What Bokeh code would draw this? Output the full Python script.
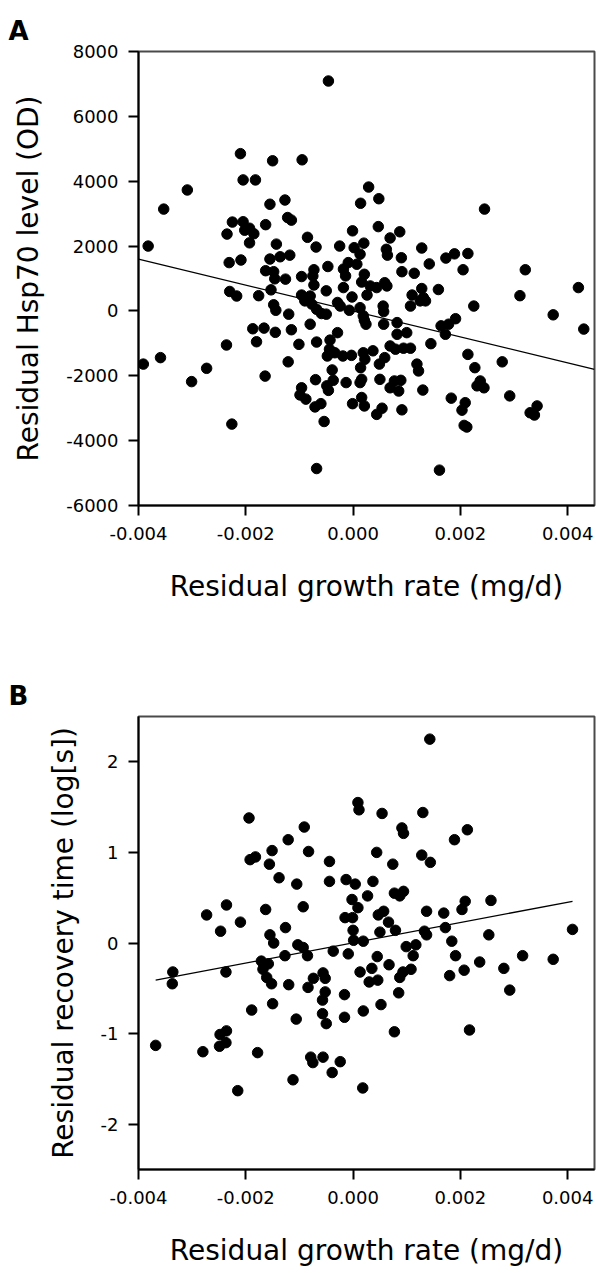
from bokeh.plotting import figure
from bokeh.layouts import column
from bokeh.models import FixedTicker, Title, Range1d
from bokeh.embed import file_html
from bokeh.resources import INLINE

# ---------------- Panel A data (growth rate in 1/1000 mg/d, Hsp70 in OD) ----------------
growth_a_milli = [
    -0.46, -2.10, -1.50, -0.95, -2.05, -1.82, -3.09, -3.53, -3.82, 0.29,
    0.48, 0.14, -1.55, -1.27, -1.22, -1.15, -2.25, -2.05, -1.63, -2.35,
    -2.02, -1.93, -1.85, -1.93, -1.43, -0.85, -0.69, -0.01, 0.47, 0.87,
    0.69, -0.25, 0.20, 0.02, 0.13, 0.62, 0.64, 0.90, 1.28, 1.42,
    -2.31, -2.09, -1.55, -1.36, -1.18, -1.63, -1.48, -1.46, -1.26, -0.96,
    -0.73, -0.75, -0.73, -0.47, -0.18, -0.09, 0.07, -0.14, -0.18, 0.21,
    0.16, 0.32, 0.44, 0.59, 0.63, 0.91, 1.14, 1.28, 1.59, -2.30,
    -2.17, -1.76, -1.53, -0.50, -0.96, -0.80, -0.02, 1.10, 1.31, -1.48,
    -1.44, -1.20, -0.90, -0.77, -0.68, -0.59, -0.50, -0.29, -0.24, -0.07,
    0.13, 0.19, 0.21, 0.24, 0.26, 0.56, 0.57, 0.57, 0.82, 0.82,
    1.00, 1.07, 1.25, 1.35, 1.64, -1.87, -1.66, -1.45, -1.15, -0.80,
    -1.80, -2.36, -1.01, -0.68, -0.29, -0.43, -0.44, -0.48, -0.34, -0.19,
    -0.03, 0.19, 0.37, 0.22, 0.14, -1.21, -2.73, -3.01, -1.64, -0.39,
    -0.70, -0.37, -0.49, -0.46, -0.13, 0.16, 0.13, 0.50, 0.49, 0.59,
    0.69, 0.79, 0.94, 1.07, 1.45, 1.19, 1.22, 1.30, 0.69, 0.77,
    0.89, 0.85, 0.91, 0.44, 0.54, 0.16, -0.01, 0.21, -0.96, -0.99,
    -0.88, -0.71, -0.60, -0.54, -2.26, -0.68, 1.61, -3.91, -3.59, 1.73,
    1.89, 2.14, 2.05, 3.21, 2.45, 3.11, 4.20, 2.25, 1.91, 1.78,
    1.72, 3.73, 4.30, 2.78, 2.14, 2.27, 2.37, 2.31, 2.44, 2.92,
    3.43, 3.30, 3.38, 1.83, 2.09, 2.03, 2.07, 2.12,
]
hsp70_a = [
    7090, 4850, 4630, 4660, 4040, 4040, 3730, 3140, 2000, 3820,
    3460, 3320, 3290, 3420, 2880, 2800, 2740, 2750, 2660, 2370,
    2490, 2550, 2380, 2100, 2060, 2270, 1970, 2470, 2600, 2440,
    2250, 2000, 2090, 1950, 1750, 1900, 1720, 1640, 1940, 1450,
    1490, 1570, 1600, 1670, 1720, 1240, 1210, 990, 980, 1060,
    1270, 1080, 800, 1370, 1290, 1490, 1440, 1080, 720, 1130,
    890, 770, 720, 870, 770, 1210, 1160, 690, 660, 600,
    460, 470, 650, 620, 490, 460, 430, 490, 410, 190,
    20, -100, 310, 210, 50, -80, -100, 260, 150, 20,
    100, -150, -290, -410, 490, 150, -20, -410, -360, -720,
    -670, 150, 310, 310, -460, -550, -530, -660, -580, -410,
    -950, -1050, -1030, -960, -670, -900, -1180, -1390, -1290, -1390,
    -1370, -1290, -1230, -1490, -1750, -1570, -1770, -2180, -2010, -1820,
    -2120, -2140, -2310, -2450, -2210, -2110, -2210, -2110, -1640, -1440,
    -1080, -1180, -1150, -1150, -1010, -1640, -1850, -2440, -2370, -2160,
    -2140, -2470, -3050, -3190, -3000, -2670, -2860, -2930, -2370, -2590,
    -2720, -2960, -2860, -3410, -3490, -4860, -4910, -1640, -1440, 1630,
    1760, 1770, 1270, 1270, 3140, 470, 720, 150, -240, -410,
    -720, -120, -560, -1570, -1340, -1750, -2160, -2310, -2370, -2620,
    -2930, -3140, -3210, -2690, -2830, -3060, -3530, -3580,
]
fit_a_x = [-0.0040, 0.0045]
fit_a_y = [1594, -1800]

# ---------------- Panel B data (growth rate in 1/1000 mg/d, recovery in log[s]) ----------------
growth_b_milli = [
    1.43, -1.94, -1.92, -1.82, -1.51, -1.56, -1.21, -1.38, -1.05, -2.36,
    -2.73, -2.10, -2.47, -1.63, -1.26, -1.55, -1.48, -1.03, -1.27, -1.71,
    -1.68, -2.37, -3.36, -3.37, -0.91, -0.83, -0.44, -0.44, -0.13, 0.04,
    0.37, 0.09, 0.11, 0.54, 1.30, 0.91, 0.94, 0.44, 0.74, 1.28,
    1.44, -0.02, 0.09, 0.27, 0.77, 0.87, 0.94, -0.93, -0.15, -0.01,
    0.47, 0.57, 0.66, 0.79, 0.00, 0.50, 0.01, 0.19, 1.37, 1.33,
    1.37, -0.93, -0.85, -0.37, -0.09, 0.45, 0.99, 1.17, 1.12, 2.13,
    1.89, 1.69, 2.09, 2.03, 2.57, 1.72, 4.09, 2.53, 1.84, 1.91,
    2.36, 2.07, 1.80, 2.81, 3.16, 3.73, 0.13, 0.35, 0.67, 0.93,
    1.08, -0.74, -0.56, -1.58, -1.61, -1.52, -1.20, -0.84, -0.52, -0.52,
    -0.57, -0.16, 0.30, 0.46, 0.87, 0.85, -1.89, -1.50, -1.06, -0.57,
    -0.50, -0.16, 0.19, 0.52, 0.77, -2.36, -2.48, -2.37, -2.49, -2.80,
    -1.78, -0.79, -0.75, -0.56, -0.24, -0.39, -1.12, -2.15, 0.18, -3.68,
    2.92, 2.17,
]
recovery_b = [
    2.25, 1.38, 0.92, 0.95, 1.02, 0.87, 1.14, 0.72, 0.65, 0.42,
    0.31, 0.23, 0.13, 0.37, 0.17, 0.09, 0.00, -0.02, -0.14, -0.20,
    -0.29, -0.32, -0.32, -0.45, 1.28, 1.01, 0.90, 0.68, 0.70, 0.65,
    0.68, 1.55, 1.47, 1.43, 1.44, 1.27, 1.21, 1.00, 0.87, 0.97,
    0.89, 0.48, 0.39, 0.52, 0.55, 0.52, 0.57, 0.40, 0.28, 0.28,
    0.31, 0.35, 0.23, 0.14, 0.14, 0.12, 0.03, 0.02, 0.35, 0.13,
    0.09, -0.05, -0.14, -0.09, -0.12, -0.15, -0.04, -0.02, -0.14, 1.25,
    1.14, 0.33, 0.46, 0.37, 0.47, 0.17, 0.15, 0.09, 0.02, -0.14,
    -0.21, -0.30, -0.36, -0.28, -0.14, -0.18, -0.32, -0.28, -0.24, -0.32,
    -0.29, -0.39, -0.33, -0.23, -0.38, -0.45, -0.46, -0.49, -0.39, -0.54,
    -0.63, -0.57, -0.43, -0.41, -0.38, -0.55, -0.74, -0.67, -0.84, -0.78,
    -0.89, -0.82, -0.75, -0.68, -0.98, -0.97, -1.01, -1.10, -1.14, -1.20,
    -1.21, -1.26, -1.32, -1.26, -1.31, -1.43, -1.51, -1.63, -1.60, -1.13,
    -0.52, -0.96,
]
fit_b_x = [-0.00368, 0.00409]
fit_b_y = [-0.41, 0.46]

# ---------------- Axis ticks and texts ----------------
x_ticks = [-0.004, -0.002, 0.0, 0.002, 0.004]
x_tick_labels = ["-0.004", "-0.002", "0.000", "0.002", "0.004"]
ya_ticks = [-6000, -4000, -2000, 0, 2000, 4000, 6000, 8000]
ya_tick_labels = ["-6000", "-4000", "-2000", "0", "2000", "4000", "6000", "8000"]
yb_ticks = [-2, -1, 0, 1, 2]
yb_tick_labels = ["-2", "-1", "0", "1", "2"]
x_title = "Residual growth rate (mg/d)"
ya_title = "Residual Hsp70 level (OD)"
yb_title = "Residual recovery time (log[s])"

FONT = "DejaVu Sans"


def make_panel(xs_milli, ys, fx, fy, yr, yt, ytl, ytitle, letter, height, btop, bbot):
    xs = [v / 1000.0 for v in xs_milli]
    p = figure(width=596, height=height, output_backend="svg", toolbar_location=None,
               x_range=Range1d(-0.004, 0.0045), y_range=Range1d(yr[0], yr[1]),
               min_border_left=138, min_border_right=2,
               min_border_top=btop, min_border_bottom=bbot)
    p.xgrid.visible = False
    p.ygrid.visible = False
    p.background_fill_color = "white"
    p.border_fill_color = "white"
    p.outline_line_color = "#4a4a4a"
    p.outline_line_width = 2

    p.xaxis.ticker = FixedTicker(ticks=x_ticks)
    p.xaxis.major_label_overrides = dict(zip(x_ticks, x_tick_labels))
    p.yaxis.ticker = FixedTicker(ticks=yt)
    p.yaxis.major_label_overrides = dict(zip(yt, ytl))
    p.xaxis.axis_label = x_title
    p.yaxis.axis_label = ytitle

    for ax in (p.xaxis[0], p.yaxis[0]):
        ax.axis_line_color = "black"
        ax.axis_line_width = 2
        ax.major_tick_line_color = "black"
        ax.major_tick_line_width = 2
        ax.major_tick_out = 10
        ax.major_tick_in = 0
        ax.minor_tick_out = 0
        ax.minor_tick_in = 0
        ax.major_label_text_font = FONT
        ax.major_label_text_font_size = "18px"
        ax.major_label_text_color = "black"
        ax.axis_label_text_font = FONT
        ax.axis_label_text_font_size = "28px"
        ax.axis_label_text_font_style = "normal"
        ax.axis_label_text_color = "black"
    p.xaxis.major_label_standoff = 11
    p.xaxis.axis_label_standoff = 27
    p.yaxis.major_label_standoff = 10
    p.yaxis.axis_label_standoff = 18

    p.add_layout(Title(text=letter, text_font=FONT, text_font_size="26px",
                       text_font_style="bold", text_color="black",
                       align="left", offset=-130, standoff=12), "above")

    p.line(fx, fy, line_color="black", line_width=1.3)
    p.scatter(xs, ys, size=10.5, marker="circle", fill_color="black", line_color="black")
    return p


pa = make_panel(growth_a_milli, hsp70_a, fit_a_x, fit_a_y, (-6000, 8000), ya_ticks, ya_tick_labels,
                ya_title, "A", 648, 51, 143)
pb = make_panel(growth_b_milli, recovery_b, fit_b_x, fit_b_y, (-2.5, 2.5), yb_ticks, yb_tick_labels,
                yb_title, "B", 625, 68, 104)

layout = column(pa, pb, spacing=0)
open("out.html", "w").write(file_html(layout, INLINE))
